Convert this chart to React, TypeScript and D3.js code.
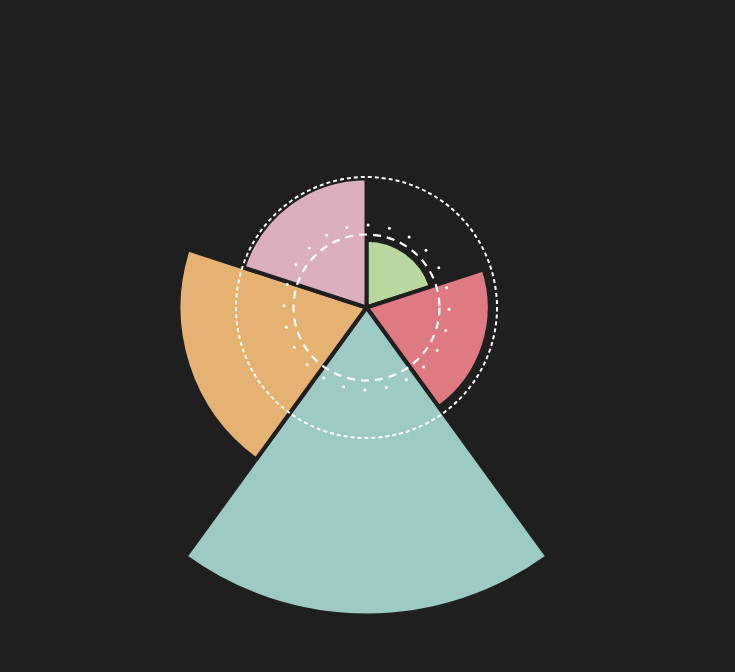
import React from "react";
import * as d3 from "d3";

const categories = ["A", "B", "C", "D", "E"];
const values = [22, 40, 100, 61, 42];
const colors = ["#b9d89f", "#df7a82", "#9ecac6", "#e6b273", "#dbafbe"];
const ringRadii = [73, 130.5];
const dotCount = 24;

const W = 735;
const H = 672;
const cx = 366.5;
const cy = 307.5;

export default function App() {
  const r = d3.scaleLinear().domain([0, 100]).range([0, 308]);
  const pie = d3
    .pie<number>()
    .value(() => 1)
    .sort(null)
    .startAngle(0)
    .endAngle(2 * Math.PI);
  const arcs = pie(values);
  const dots = d3.range(dotCount).map((i) => (i * 2 * Math.PI) / dotCount + 0.02);
  return (
    <div style={{ position: "fixed", left: 0, top: 0, width: W, height: H, background: "#1f1f1f" }}>
      <svg width={W} height={H}>
        <rect width={W} height={H} fill="#1f1f1f" />
        <g transform={`translate(${cx},${cy})`}>
          {arcs.map((a, i) => {
            const path = d3.arc<any>().innerRadius(0).outerRadius(r(values[i]))(a) as string;
            return (
              <path key={categories[i]} d={path} fill={colors[i]} stroke="#1f1f1f" strokeWidth={4} strokeLinejoin="round" />
            );
          })}
          <circle r={ringRadii[0]} fill="none" stroke="#ffffff" strokeWidth={2.2} strokeDasharray="8 6" />
          <circle r={ringRadii[1]} fill="none" stroke="#ffffff" strokeWidth={2} strokeDasharray="4 3" />
          {dots.map((ang, i) => (
            <circle key={i} cx={82.5 * Math.sin(ang)} cy={-82.5 * Math.cos(ang)} r={1.5} fill="#ffffff" />
          ))}
        </g>
      </svg>
    </div>
  );
}
